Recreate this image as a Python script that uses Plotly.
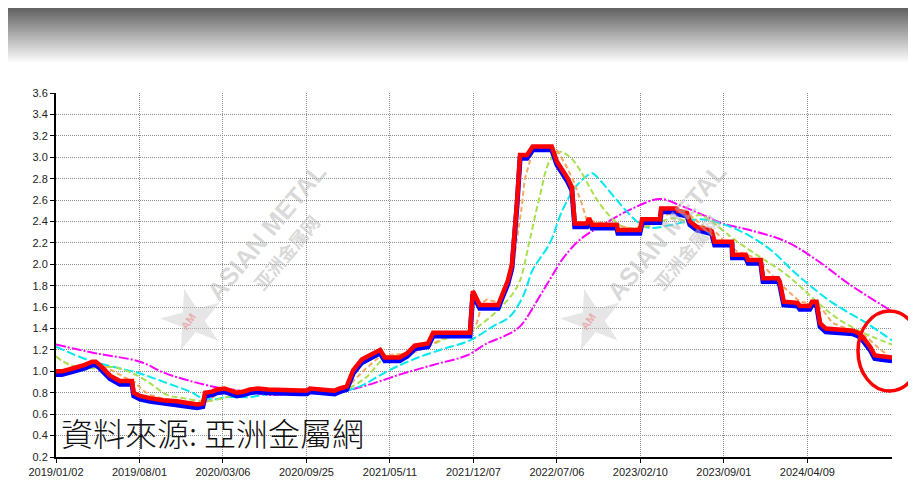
import plotly.graph_objects as go

# ---------------- data (trading-day index, price) ----------------
tick_idx = [0, 145, 290, 435, 580, 725, 870, 1015, 1160, 1305]
tick_labels = ["2019/01/02", "2019/08/01", "2020/03/06", "2020/09/25", "2021/05/11",
               "2021/12/07", "2022/07/06", "2023/02/10", "2023/09/01", "2024/04/09"]

price_x = [0, 10, 24, 38, 50, 63, 69, 76, 94, 111, 132, 135, 146, 163, 186, 210, 233, 245, 255,
           259, 271, 280, 293, 306, 314, 325, 337, 351, 363, 368, 424, 436, 441, 458, 484, 493,
           505, 516, 531, 545, 563, 571, 597, 610, 623, 646, 655, 719, 724, 736, 768, 776, 785,
           792, 797, 801, 806, 818, 828, 861, 870, 880, 889, 896, 901, 922, 926, 931, 974, 976,
           1014, 1018, 1049, 1051, 1078, 1080, 1096, 1101, 1113, 1136, 1139, 1144, 1174, 1175,
           1198, 1202, 1224, 1228, 1254, 1257, 1264, 1288, 1292, 1309, 1313, 1321, 1327, 1337,
           1384, 1393, 1401, 1414, 1422, 1434, 1452]
price_high = [1.00, 1.00, 1.02, 1.04, 1.06, 1.09, 1.09, 1.06, 0.96, 0.91, 0.91, 0.80, 0.77, 0.75,
              0.73, 0.72, 0.70, 0.69, 0.70, 0.80, 0.81, 0.83, 0.84, 0.82, 0.80, 0.81, 0.83, 0.84,
              0.84, 0.83, 0.82, 0.82, 0.84, 0.83, 0.82, 0.84, 0.86, 1.01, 1.11, 1.15, 1.20, 1.13,
              1.13, 1.17, 1.24, 1.26, 1.36, 1.36, 1.75, 1.62, 1.62, 1.73, 1.85, 2.00, 2.30, 2.60,
              3.02, 3.02, 3.10, 3.10, 2.96, 2.88, 2.80, 2.72, 2.38, 2.38, 2.43, 2.37, 2.37, 2.32,
              2.32, 2.42, 2.42, 2.52, 2.52, 2.50, 2.48, 2.40, 2.35, 2.32, 2.31, 2.21, 2.21, 2.09,
              2.09, 2.04, 2.04, 1.87, 1.87, 1.84, 1.65, 1.64, 1.61, 1.61, 1.65, 1.65, 1.45, 1.40,
              1.38, 1.36, 1.32, 1.23, 1.15, 1.14, 1.13]
price_low = [0.97, 0.97, 0.99, 1.01, 1.03, 1.06, 1.06, 1.03, 0.93, 0.88, 0.88, 0.77, 0.74, 0.72,
             0.70, 0.69, 0.67, 0.66, 0.67, 0.77, 0.78, 0.80, 0.81, 0.79, 0.77, 0.78, 0.80, 0.81,
             0.81, 0.80, 0.79, 0.79, 0.81, 0.80, 0.79, 0.81, 0.83, 0.98, 1.08, 1.12, 1.17, 1.10,
             1.10, 1.14, 1.21, 1.23, 1.33, 1.33, 1.72, 1.59, 1.59, 1.70, 1.82, 1.97, 2.27, 2.57,
             2.99, 2.99, 3.07, 3.07, 2.93, 2.85, 2.77, 2.69, 2.35, 2.35, 2.40, 2.34, 2.34, 2.29,
             2.29, 2.39, 2.39, 2.49, 2.49, 2.47, 2.45, 2.37, 2.32, 2.29, 2.28, 2.18, 2.18, 2.06,
             2.06, 2.01, 2.01, 1.84, 1.84, 1.81, 1.62, 1.61, 1.58, 1.58, 1.62, 1.62, 1.42, 1.37,
             1.35, 1.33, 1.29, 1.20, 1.12, 1.11, 1.10]

ma20_x = [0, 24, 59, 76, 97, 120, 137, 149, 163, 189, 215, 250, 262, 276, 293, 320, 372, 424, 493,
          511, 537, 563, 589, 615, 649, 675, 719, 731, 740, 748, 771, 783, 792, 801, 809, 814, 827,
          835, 863, 870, 884, 898, 913, 922, 933, 950, 979, 1000, 1023, 1040, 1058, 1078, 1101,
          1124, 1148, 1158, 1183, 1210, 1235, 1257, 1275, 1292, 1315, 1332, 1349, 1374, 1391,
          1408, 1426, 1440]
ma20_y = [1.00, 1.01, 1.05, 1.07, 1.01, 0.94, 0.90, 0.83, 0.78, 0.74, 0.72, 0.70, 0.72, 0.77,
          0.82, 0.82, 0.83, 0.82, 0.82, 0.88, 1.02, 1.14, 1.16, 1.16, 1.24, 1.32, 1.36, 1.45,
          1.64, 1.67, 1.64, 1.76, 1.92, 2.23, 2.54, 2.79, 3.04, 3.09, 3.09, 3.07, 2.94, 2.79,
          2.57, 2.41, 2.40, 2.38, 2.36, 2.33, 2.36, 2.42, 2.46, 2.49, 2.46, 2.36, 2.29, 2.23,
          2.12, 2.07, 1.95, 1.82, 1.73, 1.65, 1.63, 1.57, 1.45, 1.40, 1.38, 1.32, 1.23, 1.17]

ma60_x = [0, 24, 64, 99, 134, 163, 193, 221, 262, 297, 320, 372, 424, 493, 540, 568, 610, 644,
          684, 719, 748, 771, 794, 806, 823, 840, 858, 875, 893, 910, 927, 940, 962, 985, 1014,
          1037, 1071, 1096, 1118, 1162, 1176, 1222, 1262, 1287, 1309, 1332, 1361, 1391, 1419, 1452]
ma60_y = [1.14, 1.06, 1.03, 1.04, 0.98, 0.89, 0.78, 0.75, 0.72, 0.76, 0.79, 0.82, 0.81, 0.81,
          0.95, 1.11, 1.17, 1.23, 1.32, 1.37, 1.48, 1.59, 1.73, 1.85, 2.23, 2.63, 2.97, 3.05,
          3.00, 2.88, 2.72, 2.60, 2.45, 2.35, 2.34, 2.37, 2.43, 2.41, 2.46, 2.30, 2.24, 2.07,
          1.93, 1.82, 1.71, 1.60, 1.48, 1.39, 1.32, 1.25]

ma120_x = [0, 59, 146, 193, 233, 255, 276, 297, 337, 372, 424, 493, 528, 575, 620, 667, 719, 759,
           788, 811, 828, 840, 858, 880, 905, 931, 939, 974, 1009, 1031, 1071, 1118, 1176, 1235,
           1292, 1349, 1408, 1452]
ma120_y = [1.23, 1.10, 0.98, 0.89, 0.81, 0.75, 0.74, 0.76, 0.76, 0.79, 0.80, 0.81, 0.86, 1.00,
           1.11, 1.20, 1.29, 1.42, 1.51, 1.70, 1.95, 2.05, 2.20, 2.51, 2.74, 2.85, 2.82, 2.60,
           2.40, 2.34, 2.37, 2.42, 2.34, 2.16, 1.88, 1.64, 1.45, 1.29]

ma250_x = [0, 68, 146, 186, 233, 280, 320, 372, 424, 493, 540, 597, 655, 714, 748, 783, 806, 840,
           858, 880, 910, 950, 997, 1049, 1084, 1124, 1158, 1205, 1269, 1321, 1379, 1452]
ma250_y = [1.25, 1.17, 1.09, 0.99, 0.91, 0.85, 0.82, 0.78, 0.80, 0.81, 0.87, 0.97, 1.06, 1.15,
           1.26, 1.34, 1.42, 1.70, 1.86, 2.05, 2.23, 2.37, 2.51, 2.61, 2.55, 2.46, 2.38, 2.32,
           2.21, 2.04, 1.81, 1.56]

source_text = "資料來源: 亞洲金屬網"

# page places the figure 8px in from the window edge; plot area in window px: x 56..892, y 93..457
OFF = 8
def px(x):
    return (x - 56) / 836
def py(y):
    return (457 - y) / 364

# ---------------- figure ----------------
fig = go.Figure()

fig.add_trace(go.Scatter(x=ma250_x, y=ma250_y, mode="lines", line_shape="spline",
                         line=dict(color="#ff00ff", width=2, dash="10px,2px,2px,2px")))
fig.add_trace(go.Scatter(x=ma120_x, y=ma120_y, mode="lines", line_shape="spline",
                         line=dict(color="#00e8f0", width=2, dash="9px,3px")))
fig.add_trace(go.Scatter(x=ma60_x, y=ma60_y, mode="lines", line_shape="spline",
                         line=dict(color="#a8e050", width=2, dash="6px,3px")))
fig.add_trace(go.Scatter(x=ma20_x, y=ma20_y, mode="lines",
                         line=dict(color="#f4a862", width=2, dash="5px,3px")))
fig.add_trace(go.Scatter(x=price_x, y=price_low, mode="lines",
                         line=dict(color="#0000ff", width=5)))
fig.add_trace(go.Scatter(x=price_x, y=price_high, mode="lines",
                         line=dict(color="#ff0000", width=4.5)))

shapes = []
# grey gradient header band
y_top, y_bot, step = 4, 62, 2
for yy in range(y_top, y_bot, step):
    t = (yy - y_top) / (y_bot - y_top)
    g = int(88 + (255 - 88) * t)
    shapes.append(dict(type="rect", xref="paper", yref="paper",
                       x0=px(0), x1=px(920),
                       y0=py(yy + step), y1=py(yy),
                       fillcolor=f"rgb({g},{g},{g})", line=dict(width=0), layer="below"))
# red highlight ellipse
shapes.append(dict(type="circle", xref="paper", yref="paper",
                   x0=px(858), x1=px(921), y0=py(391), y1=py(311),
                   line=dict(color="#ff0000", width=3.5)))

annotations = []
wm = "rgba(185,185,185,0.55)"
for dx in (0, 400):
    annotations.append(dict(xref="paper", yref="paper", x=px(266 + dx), y=py(232),
                            xanchor="center", yanchor="middle",
                            text="<b>ASIAN METAL</b>", showarrow=False, textangle=-50,
                            font=dict(family="Arial", size=25, color=wm)))
    annotations.append(dict(xref="paper", yref="paper", x=px(286 + dx), y=py(252),
                            xanchor="center", yanchor="middle",
                            text="<b>亚洲金属网</b>", showarrow=False, textangle=-50,
                            font=dict(family="Noto Sans CJK SC", size=18, color=wm)))
    annotations.append(dict(xref="paper", yref="paper", x=px(192 + dx), y=py(318),
                            xanchor="center", yanchor="middle",
                            text="★", showarrow=False, textangle=-15,
                            font=dict(family="DejaVu Sans", size=80, color="rgba(200,200,200,0.45)")))
    annotations.append(dict(xref="paper", yref="paper", x=px(188 + dx), y=py(322),
                            xanchor="center", yanchor="middle",
                            text="<b>AM</b>", showarrow=False, textangle=-55,
                            font=dict(family="Arial", size=11, color="rgba(235,150,150,0.7)")))

annotations.append(dict(xref="paper", yref="paper", x=px(59), y=py(457),
                        xanchor="left", yanchor="bottom", text=source_text, showarrow=False,
                        font=dict(family="Noto Sans CJK TC", size=32, color="#111111", weight=300)))

fig.update_layout(
    width=916 - OFF, height=498 - OFF,
    margin=dict(l=56 - OFF, r=24, t=93 - OFF, b=41, autoexpand=False),
    paper_bgcolor="white", plot_bgcolor="white",
    showlegend=False,
    shapes=shapes, annotations=annotations,
    font=dict(family="Arial, Liberation Sans", size=11, color="#222"),
)
axis_common = dict(showgrid=True, gridcolor="#8c8c8c", griddash="1px,1px", gridwidth=1,
                   showline=True, linecolor="black", linewidth=2,
                   ticks="outside", ticklen=4, tickcolor="black", zeroline=False,
                   tickfont=dict(family="Arial, Liberation Sans", size=11, color="#222"))
fig.update_xaxes(range=[0, 1452], tickmode="array", tickvals=tick_idx, ticktext=tick_labels,
                 **axis_common)
fig.update_yaxes(range=[0.2, 3.6], tick0=0.2, dtick=0.2, tickformat=".1f", **axis_common)

fig.write_html("out.html")
